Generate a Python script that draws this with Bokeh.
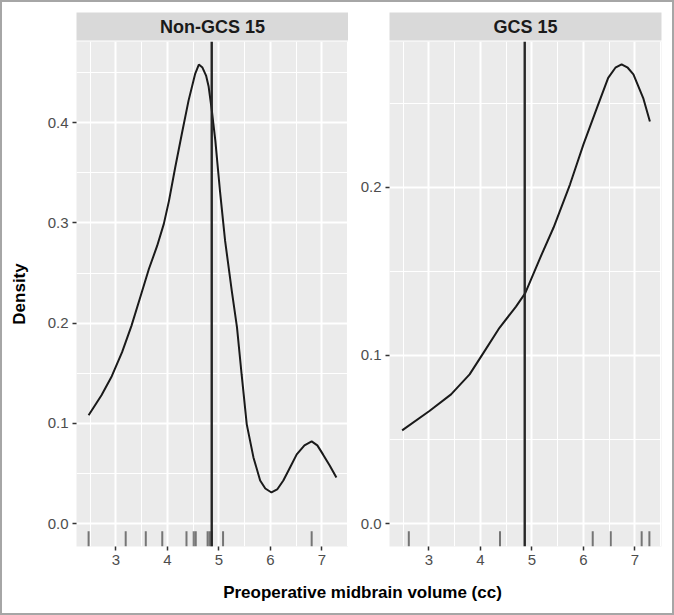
from bokeh.plotting import figure
from bokeh.models import (Range1d, FixedTicker, PrintfTickFormatter, Span, Label)
from bokeh.layouts import row, column
from bokeh.embed import file_html
from bokeh.resources import INLINE

# ---- data ----
panel_titles = ["Non-GCS 15", "GCS 15"]
x_ticks = [3, 4, 5, 6, 7]
x_minor = [2.5, 3.5, 4.5, 5.5, 6.5, 7.5]

left_x = [2.47, 2.72, 2.92, 3.12, 3.30, 3.48, 3.64, 3.80, 3.93, 4.03, 4.15, 4.28, 4.41, 4.54,
          4.61, 4.68, 4.75, 4.80, 4.86, 4.93, 5.02, 5.12, 5.25, 5.35, 5.44, 5.54, 5.67, 5.80,
          5.90, 6.02, 6.13, 6.25, 6.38, 6.51, 6.66, 6.80, 6.91, 7.02, 7.15, 7.28]
left_y = [0.108, 0.128, 0.147, 0.171, 0.197, 0.227, 0.254, 0.277, 0.299, 0.322, 0.355, 0.389, 0.422, 0.449,
          0.458, 0.455, 0.447, 0.436, 0.413, 0.382, 0.332, 0.282, 0.232, 0.196, 0.149, 0.099, 0.066, 0.043,
          0.035, 0.031, 0.034, 0.043, 0.056, 0.069, 0.078, 0.082, 0.078, 0.069, 0.058, 0.046]

right_x = [2.48, 3.01, 3.43, 3.79, 4.04, 4.37, 4.69, 4.87, 5.16, 5.42, 5.74, 6.00,
           6.26, 6.48, 6.62, 6.74, 6.86, 6.97, 7.16, 7.29]
right_y = [0.0554, 0.0669, 0.0768, 0.0887, 0.1006, 0.1164, 0.129, 0.137, 0.158, 0.176, 0.2017, 0.2254,
           0.247, 0.265, 0.271, 0.273, 0.271, 0.267, 0.253, 0.239]

left_rug = [2.47, 3.19, 3.58, 3.90, 4.37, 4.51, 4.55, 4.78, 4.82, 4.86, 5.08, 6.80]
right_rug = [2.61, 4.38, 6.18, 6.53, 7.13, 7.28]

mean_line = 4.86

left_y_ticks = [0.0, 0.1, 0.2, 0.3, 0.4]
left_y_minor = [0.05, 0.15, 0.25, 0.35, 0.45]
right_y_ticks = [0.0, 0.1, 0.2]
right_y_minor = [0.05, 0.15, 0.25]

x_range = (2.235, 7.515)
left_y_range = (-0.0229, 0.481)
right_y_range = (-0.01365, 0.2866)

x_title = "Preoperative midbrain volume (cc)"
y_title = "Density"

FONT = "Liberation Sans"
PANEL_BG = "#ebebeb"
STRIP_BG = "#d9d9d9"


def make_strip(title, width, border_left, border_right):
    s = figure(width=width, height=39, output_backend="svg", toolbar_location=None,
               x_range=Range1d(*x_range), y_range=Range1d(0, 1),
               min_border_left=border_left, min_border_right=border_right,
               min_border_top=10, min_border_bottom=1)
    s.axis.visible = False
    s.grid.visible = False
    s.outline_line_color = None
    s.background_fill_color = STRIP_BG
    s.border_fill_color = "white"
    s.add_layout(Label(x=(x_range[0] + x_range[1]) / 2, y=0.5, text=title,
                       text_align="center", text_baseline="middle", text_font=FONT,
                       text_font_size="18px", text_font_style="bold", text_color="#1a1a1a"))
    return s


def make_panel(xs, ys, rug, yticks, yminor, yr, width, border_left, border_right, ylabel):
    p = figure(width=width, height=534, output_backend="svg", toolbar_location=None,
               x_range=Range1d(*x_range), y_range=Range1d(*yr),
               min_border_left=border_left, min_border_right=border_right,
               min_border_top=0, min_border_bottom=29)
    p.background_fill_color = PANEL_BG
    p.border_fill_color = "white"
    p.outline_line_color = None

    p.xaxis.ticker = FixedTicker(ticks=x_ticks, minor_ticks=x_minor)
    p.yaxis.ticker = FixedTicker(ticks=yticks, minor_ticks=yminor)
    p.xaxis.formatter = PrintfTickFormatter(format="%d")
    p.yaxis.formatter = PrintfTickFormatter(format="%.1f")
    for ax in (p.xaxis, p.yaxis):
        ax.axis_line_color = None
        ax.major_tick_line_color = "#333333"
        ax.major_tick_line_width = 1.5
        ax.major_tick_out = 4
        ax.major_tick_in = 0
        ax.minor_tick_line_color = None
        ax.major_label_text_font = FONT
        ax.major_label_text_font_size = "15px"
        ax.major_label_text_color = "#4d4d4d"
        ax.major_label_standoff = 4
    if ylabel:
        p.yaxis.axis_label = ylabel
        p.yaxis.axis_label_text_font = FONT
        p.yaxis.axis_label_text_font_size = "17px"
        p.yaxis.axis_label_text_font_style = "bold"
        p.yaxis.axis_label_text_color = "#000000"
        p.yaxis.axis_label_standoff = 16

    for g in (p.xgrid, p.ygrid):
        g.grid_line_color = "white"
        g.grid_line_width = 2
        g.minor_grid_line_color = "white"
        g.minor_grid_line_width = 1.1

    # rug
    y0 = yr[0]
    y1 = yr[0] + 0.03 * (yr[1] - yr[0])
    p.segment(x0=rug, x1=rug, y0=[y0] * len(rug), y1=[y1] * len(rug),
              line_color="#000000", line_alpha=0.5, line_width=2)
    # density curve
    p.line(xs, ys, line_color="#1a1a1a", line_width=2)
    # mean line
    p.add_layout(Span(location=mean_line, dimension="height", line_color="#262626", line_width=2.4))
    return p


s1 = make_strip(panel_titles[0], 346, 74, 0)
s2 = make_strip(panel_titles[1], 324, 41, 11)
p1 = make_panel(left_x, left_y, left_rug, left_y_ticks, left_y_minor,
                left_y_range, 346, 74, 0, y_title)
p2 = make_panel(right_x, right_y, right_rug, right_y_ticks, right_y_minor,
                right_y_range, 324, 41, 11, None)

p3 = figure(width=670, height=38, output_backend="svg", toolbar_location=None,
            min_border_left=0, min_border_right=0, min_border_top=0, min_border_bottom=0)
p3.axis.visible = False
p3.grid.visible = False
p3.outline_line_color = None
p3.background_fill_color = "white"
p3.add_layout(Label(x=360, y=21, x_units="screen", y_units="screen", text=x_title,
                    text_align="center", text_baseline="middle", text_font=FONT,
                    text_font_size="17px", text_font_style="bold", text_color="#000000"))

layout = column(row(s1, s2), row(p1, p2), p3,
                styles={"border": "2px solid #a6a6a6", "width": "674px", "height": "615px",
                        "box-sizing": "border-box"})
open("out.html", "w").write(file_html(layout, INLINE))
